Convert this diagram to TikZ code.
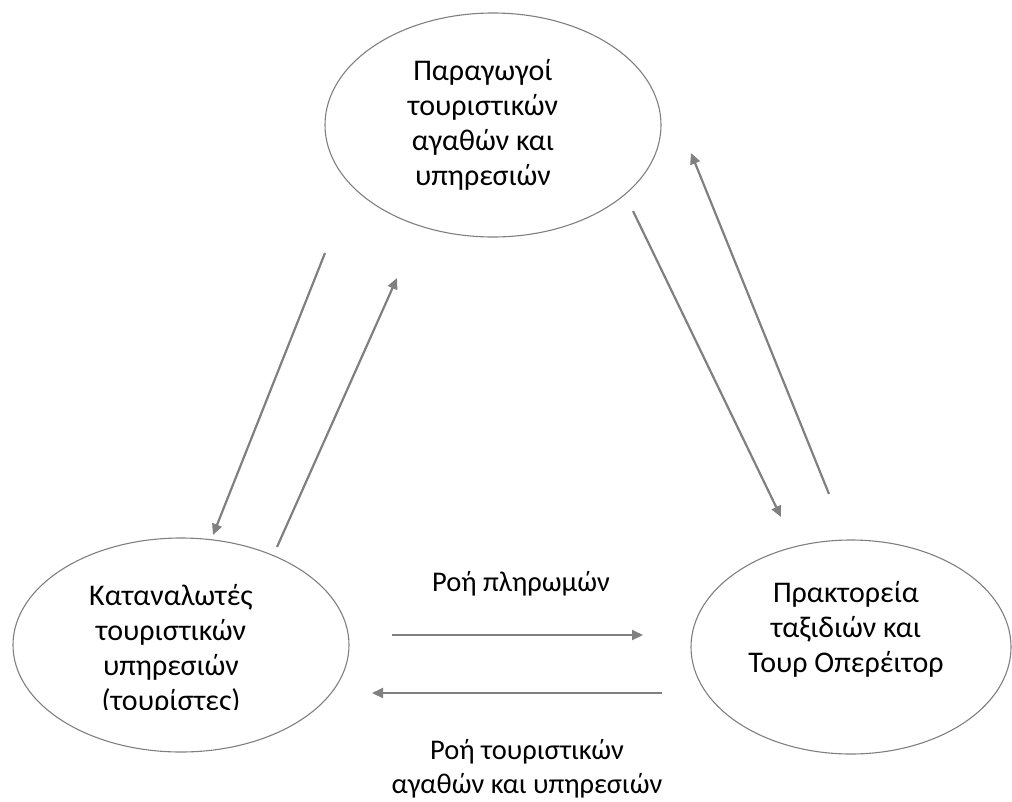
\documentclass[tikz,border=0pt]{standalone}
\usepackage{fontspec}
\setmainfont{Carlito}
\usetikzlibrary{shapes.geometric,arrows.meta}

\definecolor{rimgray}{HTML}{7F7F7F}
\definecolor{flowgray}{HTML}{808080}

\tikzset{
  actor/.style={draw=rimgray, line width=1.1pt, ellipse, inner sep=0pt},
  flow/.style={draw=flowgray, line width=2.2pt, -{Triangle[length=11pt,width=10pt]}},
  caption/.style={align=center, inner sep=0pt, font=\fontsize{28.5}{34.5}\selectfont},
  inside/.style={caption, font=\fontsize{30}{35}\selectfont},
}

\begin{document}
\begin{tikzpicture}[x=1pt,y=-1pt]
    \useasboundingbox (0,0) rectangle (1012,801);

    % the three parties
    \node[actor, minimum width=336pt, minimum height=224pt] (prod)  at (493,125) {};
    \node[actor, minimum width=336pt, minimum height=214pt] (cons)  at (181,645) {};
    \node[actor, minimum width=320pt, minimum height=214pt] (agent) at (851,647) {};

    \node[inside] (prodtxt)  at (483,125) {Παραγωγοί\\τουριστικών\\αγαθών και\\υπηρεσιών};
    \node[inside] (agenttxt) at (846,629) {Πρακτορεία\\ταξιδιών και\\Τουρ Οπερέιτορ};
    \begin{scope}
        \clip (0,0) rectangle (1012,709);
        \node[inside] (constxt) at (171,650) {Καταναλωτές\\τουριστικών\\υπηρεσιών\\(τουρίστες)};
    \end{scope}

    % arrow ends
    \coordinate (pc1) at (325,253);
    \coordinate (pc2) at (213,535);
    \coordinate (cp1) at (277,547);
    \coordinate (cp2) at (397,278);
    \coordinate (pa1) at (633,211);
    \coordinate (pa2) at (781,517);
    \coordinate (ap1) at (829,494);
    \coordinate (ap2) at (691,153);
    \coordinate (ca1) at (392,635);
    \coordinate (ca2) at (643,635);
    \coordinate (ac1) at (662,693);
    \coordinate (ac2) at (372,693);

    \draw[flow] (pc1) -- (pc2);
    \draw[flow] (cp1) -- (cp2);
    \draw[flow] (pa1) -- (pa2);
    \draw[flow] (ap1) -- (ap2);
    \draw[flow] (ca1) -- (ca2);
    \draw[flow] (ac1) -- (ac2);

    \node[caption] (paytxt)  at (521,584) {Ροή πληρωμών};
    \node[caption] (goodtxt) at (527,769) {Ροή τουριστικών\\αγαθών και υπηρεσιών};
\end{tikzpicture}
\end{document}
